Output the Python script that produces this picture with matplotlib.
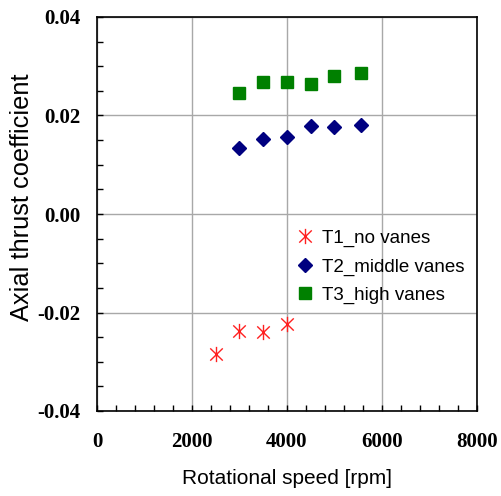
import matplotlib
matplotlib.use("Agg")
import matplotlib.pyplot as plt
from matplotlib.ticker import MultipleLocator, FormatStrFormatter
from matplotlib.path import Path

t1_x = [2500, 3000, 3500, 4000]
t1_y = [-0.0285, -0.0237, -0.0239, -0.0223]
t2_x = [3000, 3500, 4000, 4500, 5000, 5550]
t2_y = [0.0134, 0.0153, 0.0156, 0.0178, 0.0176, 0.0181]
t3_x = [3000, 3500, 4000, 4500, 5000, 5550]
t3_y = [0.0245, 0.0268, 0.0268, 0.0264, 0.0281, 0.0287]
labels = ["T1_no vanes", "T2_middle vanes", "T3_high vanes"]

star = Path([(0, -1), (0, 1), (-0.82, -0.8), (0.82, 0.8), (-0.82, 0.8), (0.82, -0.8)],
            [Path.MOVETO, Path.LINETO] * 3)

fig = plt.figure(figsize=(5.02, 4.96), dpi=100)
ax = fig.add_axes([97/502, 1-411/496, 380/502, 394/496])

ax.plot(t1_x, t1_y, linestyle='none', marker=star, markersize=11,
        markeredgewidth=1.0, color='#ff2020', label=labels[0])
ax.plot(t2_x, t2_y, linestyle='none', marker='D', markersize=7.5,
        color='#000080', label=labels[1])
ax.plot(t3_x, t3_y, linestyle='none', marker='s', markersize=8,
        color='#008000', label=labels[2])

ax.set_xlim(0, 8000)
ax.set_ylim(-0.04, 0.04)
ax.xaxis.set_major_locator(MultipleLocator(2000))
ax.xaxis.set_minor_locator(MultipleLocator(400))
ax.yaxis.set_major_locator(MultipleLocator(0.02))
ax.yaxis.set_minor_locator(MultipleLocator(0.005))
ax.yaxis.set_major_formatter(FormatStrFormatter('%.2f'))
ax.grid(True, which='major', color='#a8a8a8', linewidth=1.0)
ax.set_axisbelow(True)

ax.tick_params(which='both', direction='in', top=False, right=False,
               length=4, width=1)
ax.tick_params(axis='y', pad=12)
ax.tick_params(axis='x', pad=15)
for lab in ax.get_xticklabels() + ax.get_yticklabels():
    lab.set_fontfamily('Liberation Serif')
    lab.set_fontweight('bold')
    lab.set_fontsize(15)

for s in ax.spines.values():
    s.set_linewidth(1.2)
    s.set_color('black')

ax.set_xlabel('Rotational speed [rpm]', fontfamily='Liberation Sans',
              fontsize=15, labelpad=12)
ax.set_ylabel('Axial thrust coefficient', fontfamily='Liberation Sans',
              fontsize=18.3, labelpad=0)
ax.yaxis.set_label_coords(-0.166, 0.543)

leg = ax.legend(loc='center left', frameon=False,
                prop={'family': 'Liberation Sans', 'size': 13.5},
                handletextpad=0.4, handlelength=1.0, labelspacing=0.6,
                borderaxespad=0, borderpad=0)
leg.set_bbox_to_anchor((0.522, 1 - (267 - 17) / 394), transform=ax.transAxes)

fig.savefig('out.png', dpi=100)
